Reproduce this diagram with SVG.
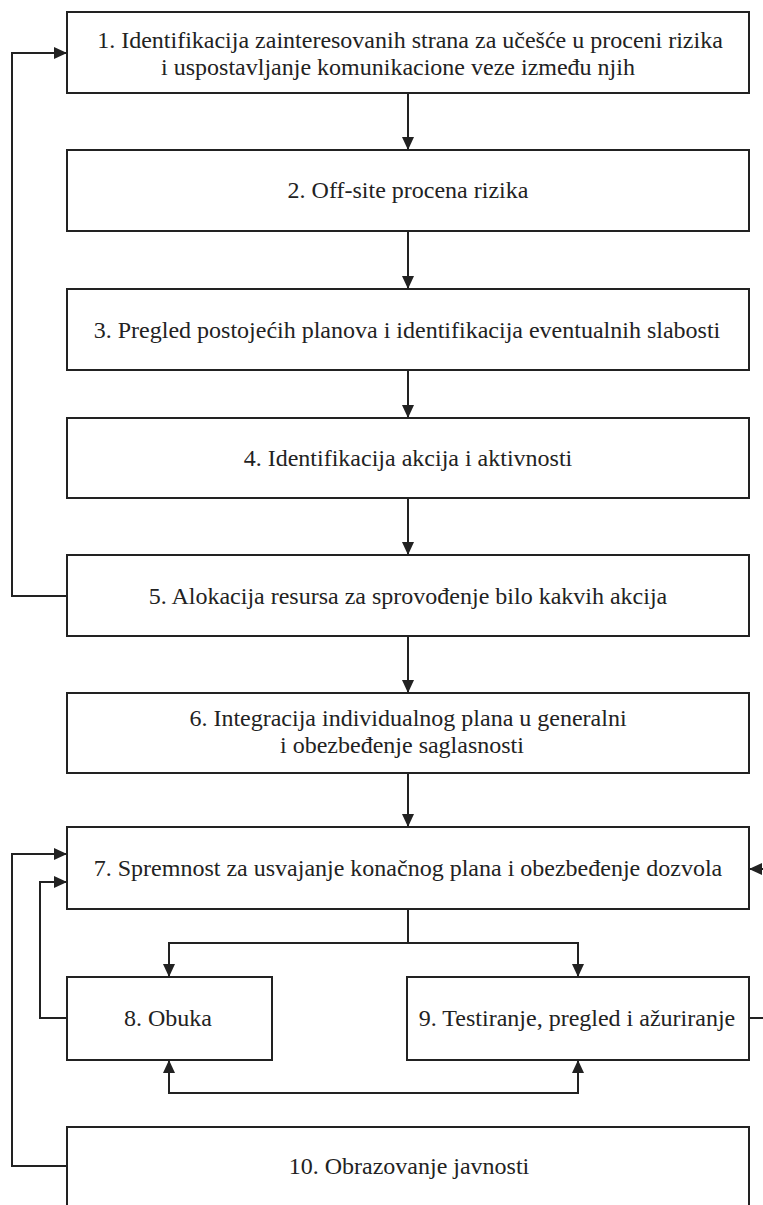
<svg xmlns="http://www.w3.org/2000/svg" width="763" height="1205" viewBox="0 0 763 1205">
<style>
.box{fill:#fff;stroke:#222;stroke-width:2}
.t{font-family:'Liberation Serif','Times New Roman','DejaVu Serif',serif;font-size:24px;fill:#222;text-anchor:middle;dominant-baseline:central}
.c{fill:none;stroke:#222;stroke-width:2}
</style>
<defs>
<marker id="ah" markerUnits="userSpaceOnUse" markerWidth="14" markerHeight="12" refX="13" refY="6" orient="auto">
<path d="M0,0 L13,6 L0,12 Z" fill="#222"/>
</marker>
</defs>
<rect width="763" height="1205" fill="#fff"/>
<g id="connectors">
<path class="c" d="M408,93 V150" marker-end="url(#ah)"/>
<path class="c" d="M408,231 V289" marker-end="url(#ah)"/>
<path class="c" d="M408,370 V418" marker-end="url(#ah)"/>
<path class="c" d="M408,498 V555" marker-end="url(#ah)"/>
<path class="c" d="M408,636 V693" marker-end="url(#ah)"/>
<path class="c" d="M408,773 V827" marker-end="url(#ah)"/>
<path class="c" d="M67,596 H12 V53 H67" marker-end="url(#ah)"/>
<path class="c" d="M408,909 V943 H169 V977" marker-end="url(#ah)"/>
<path class="c" d="M408,943 H578 V977" marker-end="url(#ah)"/>
<path class="c" d="M374,1093 H169 V1060" marker-end="url(#ah)"/>
<path class="c" d="M374,1093 H578 V1060" marker-end="url(#ah)"/>
<path class="c" d="M67,1166 H12 V854 H67" marker-end="url(#ah)"/>
<path class="c" d="M67,1018 H40 V882 H67" marker-end="url(#ah)"/>
<path class="c" d="M749,1018 H775 V869 H749" marker-end="url(#ah)"/>
</g>
<g id="n1"><rect class="box" x="67" y="12" width="682" height="81"/>
<text class="t" x="410" y="40">1. Identifikacija zainteresovanih strana za učešće u proceni rizika</text>
<text class="t" x="398" y="67">i uspostavljanje komunikacione veze između njih</text></g>
<g id="n2"><rect class="box" x="67" y="150" width="682" height="81"/>
<text class="t" x="408" y="190">2. Off-site procena rizika</text></g>
<g id="n3"><rect class="box" x="67" y="289" width="682" height="81"/>
<text class="t" x="407" y="330">3. Pregled postojećih planova i identifikacija eventualnih slabosti</text></g>
<g id="n4"><rect class="box" x="67" y="418" width="682" height="80"/>
<text class="t" x="408" y="458">4. Identifikacija akcija i aktivnosti</text></g>
<g id="n5"><rect class="box" x="67" y="555" width="682" height="81"/>
<text class="t" x="408" y="596">5. Alokacija resursa za sprovođenje bilo kakvih akcija</text></g>
<g id="n6"><rect class="box" x="67" y="693" width="682" height="80"/>
<text class="t" x="408" y="718">6. Integracija individualnog plana u generalni</text>
<text class="t" x="402" y="745">i obezbeđenje saglasnosti</text></g>
<g id="n7"><rect class="box" x="67" y="827" width="682" height="82"/>
<text class="t" x="408" y="868">7. Spremnost za usvajanje konačnog plana i obezbeđenje dozvola</text></g>
<g id="n8"><rect class="box" x="67" y="977" width="205" height="83"/>
<text class="t" x="168" y="1018">8. Obuka</text></g>
<g id="n9"><rect class="box" x="407" y="977" width="342" height="83"/>
<text class="t" x="577" y="1018">9. Testiranje, pregled i ažuriranje</text></g>
<g id="n10"><rect class="box" x="67" y="1127" width="682" height="90"/>
<text class="t" x="409" y="1166">10. Obrazovanje javnosti</text></g>
</svg>
